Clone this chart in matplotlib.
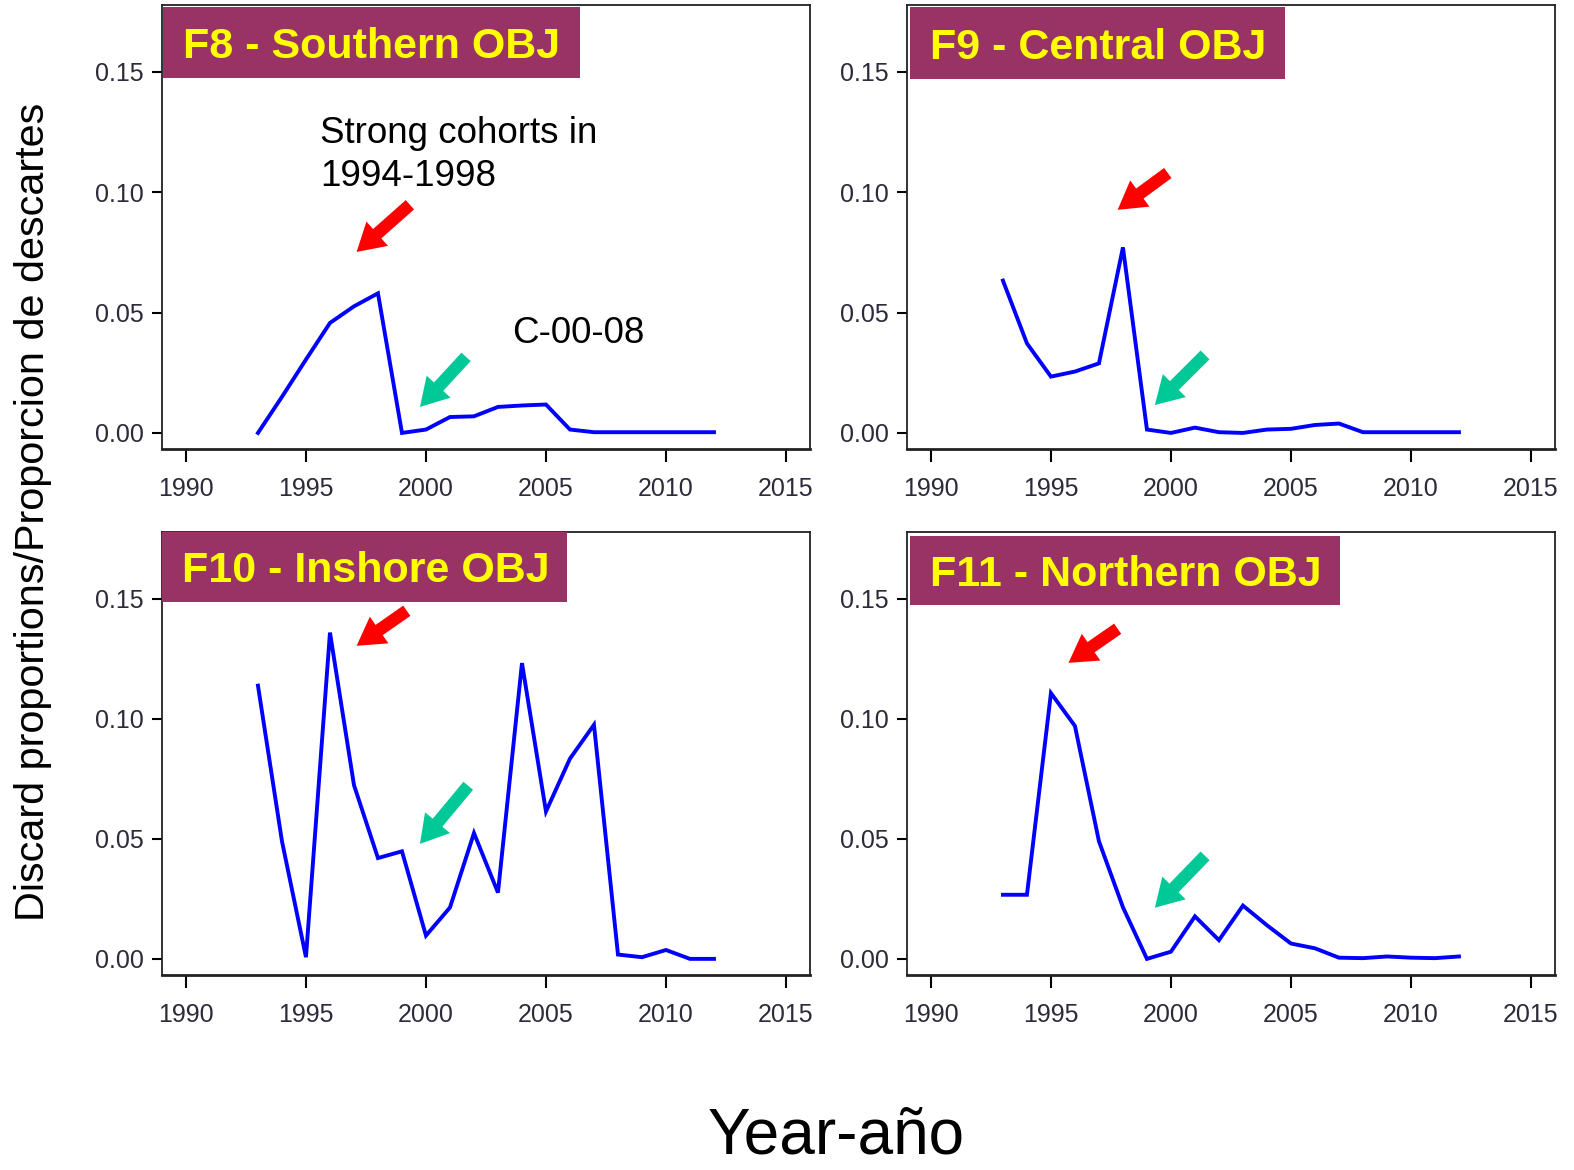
import numpy as np
import matplotlib.pyplot as plt
from matplotlib.patches import Rectangle

# discard proportions by year for each fleet / area
years = np.arange(1993, 2013)

f8_south = [0.0, 0.015, 0.0305, 0.0457, 0.0526, 0.058, 0.0, 0.0014, 0.0066, 0.0069,
            0.0108, 0.0114, 0.0118, 0.0014, 0.0003, 0.0003, 0.0003, 0.0003, 0.0003, 0.0003]
f9_central = [0.0633, 0.0372, 0.0234, 0.0255, 0.0289, 0.0771, 0.0014, 0.0, 0.0022, 0.0003,
              0.0, 0.0014, 0.0017, 0.0033, 0.0039, 0.0003, 0.0003, 0.0003, 0.0003, 0.0003]
f10_inshore = [0.1138, 0.049, 0.0007, 0.1359, 0.0724, 0.042, 0.0448, 0.0097, 0.0214, 0.0524,
               0.0276, 0.1232, 0.0614, 0.0834, 0.0975, 0.0018, 0.0007, 0.0037, 0.0, 0.0]
f11_north = [0.0267, 0.0267, 0.1107, 0.097, 0.049, 0.0215, 0.0, 0.003, 0.0177, 0.0078,
             0.0222, 0.014, 0.0064, 0.0044, 0.0005, 0.0003, 0.001, 0.0005, 0.0003, 0.001]

titles = ["F8 - Southern OBJ", "F9 - Central OBJ", "F10 - Inshore OBJ", "F11 - Northern OBJ"]
series = [f8_south, f9_central, f10_inshore, f11_north]

xticks = [1990, 1995, 2000, 2005, 2010, 2015]
yticks = [0.00, 0.05, 0.10, 0.15]

# [left, bottom, width, height] in figure fractions
positions = [[0.1029, 0.6162, 0.4117, 0.3795],
             [0.5762, 0.6162, 0.4117, 0.3795],
             [0.1029, 0.1667, 0.4117, 0.3786],
             [0.5762, 0.1667, 0.4117, 0.3786]]
# title box extents in axes fractions: x0, x1, y0, y1
boxes = [(0.0015, 0.645, 0.836, 0.9955),
         (0.0046, 0.583, 0.833, 0.9955),
         (0.0, 0.625, 0.842, 1.0),
         (0.0046, 0.668, 0.835, 0.991)]
# arrows (tail -> tip) in data coords
red_arrows = [((1999.33, 0.0948), (1997.11, 0.0752)),
              ((1999.87, 0.108), (1997.78, 0.0927)),
              ((1999.2, 0.145), (1997.11, 0.1304)),
              ((1997.78, 0.1375), (1995.73, 0.1233))]
green_arrows = [((2001.67, 0.0316), (1999.75, 0.0108)),
                ((2001.42, 0.0324), (1999.33, 0.0116)),
                ((2001.76, 0.0721), (1999.75, 0.0479)),
                ((2001.42, 0.0429), (1999.33, 0.0213))]

plt.rcParams['font.family'] = ['Liberation Sans', 'DejaVu Sans']

fig = plt.figure(figsize=(15.74, 11.70), dpi=100)

arrow_style = "simple,head_length=1.1,head_width=1.3,tail_width=0.5"

for i in range(4):
    ax = fig.add_axes(positions[i])
    ax.plot(years, series[i], color='#0000ff', lw=2.8, solid_joinstyle='miter')
    ax.set_xlim(1989, 2016)
    ax.set_ylim(-0.0067, 0.1778)
    ax.set_xticks(xticks)
    ax.set_yticks(yticks)
    ax.set_xticklabels([str(t) for t in xticks], fontsize=18, color='#2b2b3a')
    ax.set_yticklabels(["%.2f" % t for t in yticks], fontsize=18, color='#2b2b3a')
    ax.tick_params(axis='x', length=9, width=1.5, pad=11)
    ax.tick_params(axis='y', length=7, width=1.5, pad=6)
    for s in ax.spines.values():
        s.set_linewidth(1.3)
        s.set_color('#222222')
    ax.spines['bottom'].set_linewidth(2)

    x0, x1, y0, y1 = boxes[i]
    ax.add_patch(Rectangle((x0, y0), x1 - x0, y1 - y0, transform=ax.transAxes,
                           facecolor='#993366', edgecolor='none', zorder=5, clip_on=False))
    ax.text(x0 + 0.031, (y0 + y1) / 2 - 0.01, titles[i], transform=ax.transAxes,
            color='#ffff00', fontsize=31, fontweight='bold', va='center', ha='left', zorder=6)

    for (tail, tip), col in [(red_arrows[i], '#ff0000'), (green_arrows[i], '#00c896')]:
        ax.annotate('', xy=tip, xytext=tail,
                    arrowprops=dict(arrowstyle=arrow_style, color=col, lw=0,
                                    mutation_scale=18, shrinkA=0, shrinkB=0))

    if i == 0:
        ax.text(1995.6, 0.1155, "Strong cohorts in\n1994-1998", fontsize=26.5,
                va='center', ha='left', linespacing=1.33)
        ax.text(2003.6, 0.0415, "C-00-08", fontsize=26.5, va='center', ha='left')

fig.text(0.021, 0.5624, "Discard proportions/Proporcion de descartes", rotation=90,
         fontsize=29.8, va='center', ha='center')
fig.text(0.531, 0.029, "Year-año", fontsize=46, va='center', ha='center')

fig.savefig('out.png', dpi=100)
